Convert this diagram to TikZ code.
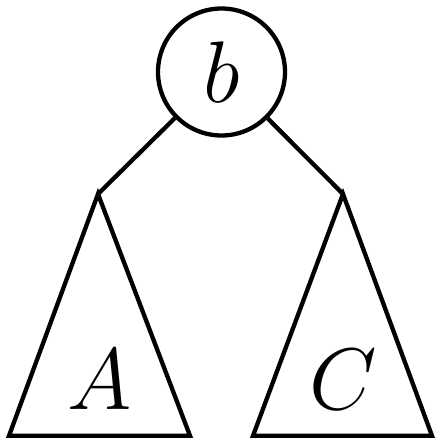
\documentclass[tikz,border=0pt]{standalone}
\usepackage{tikz}

\begin{document}
\begin{tikzpicture}[
    x=0.1mm,
    y=-0.1mm,
    line width=0.43mm,
    vertex/.style={
        circle,
        draw=black,
        minimum size=12.7mm,
        inner sep=0pt,
        font=\fontsize{28}{34}\selectfont
    },
    subtree/.style={
        draw=black,
        line join=miter
    },
    treename/.style={
        anchor=base,
        inner sep=0pt,
        font=\fontsize{28}{34}\selectfont
    },
    edge/.style={
        draw=black
    }
]

\useasboundingbox (0,0) rectangle (436,438);

% ---------------- ROOT ----------------

\node[vertex] (b) at (221.5,72) {$b$};

% ---------------- SUBTREES ----------------

\coordinate (topA) at (98,194);
\coordinate (topC) at (343,194);

\draw[subtree] (topA) -- (9,435.8) -- (190,435.8) -- cycle;
\draw[subtree] (topC) -- (253,435.8) -- (432,435.8) -- cycle;

\node[treename] (A) at (100,409) {$A$};
\node[treename] (C) at (343,409) {$C$};

% ---------------- EDGES ----------------

\draw[edge] (b) -- (topA);
\draw[edge] (b) -- (topC);

\end{tikzpicture}
\end{document}
